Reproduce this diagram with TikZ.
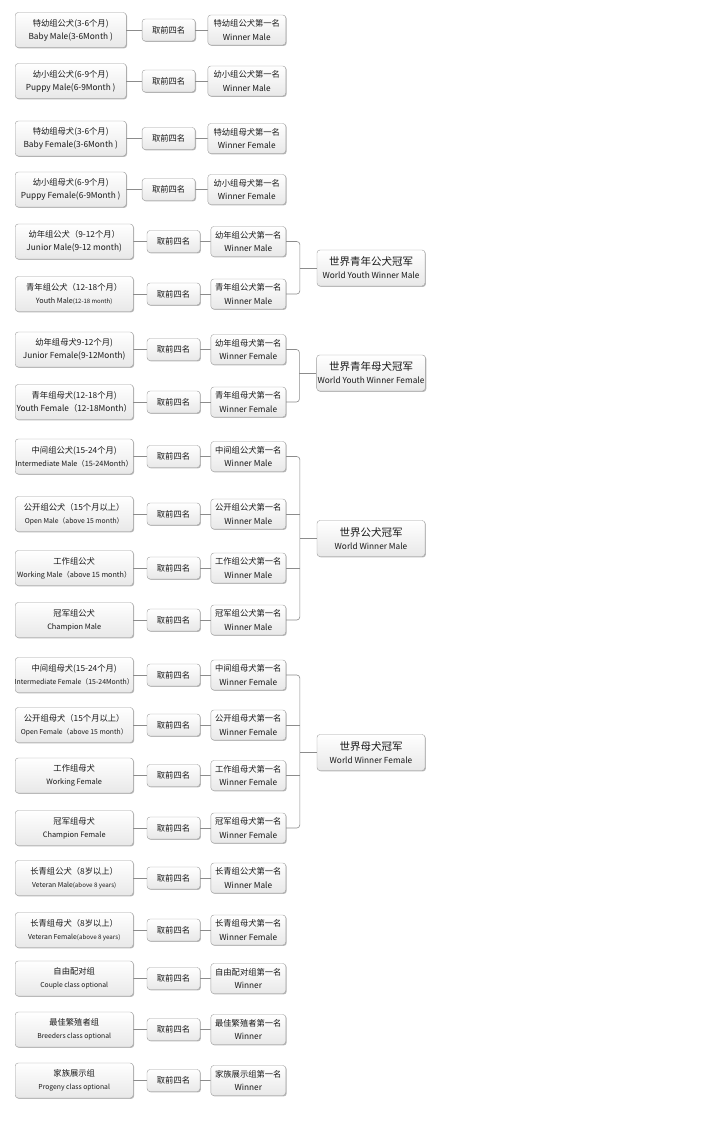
\documentclass[tikz,border=0pt]{standalone}
\usepackage{fontspec}
\setmainfont{Noto Sans CJK SC}
\usepackage{tikz}
\usetikzlibrary{shadows,calc}
\tikzset{
  box/.style={draw=black!38, rounded corners=3pt, top color=white, bottom color=black!9,
    drop shadow={shadow xshift=0.9pt, shadow yshift=-0.9pt, fill=black!40, opacity=.7},
    align=center, inner sep=1pt, text=black!90},
  cls/.style={box, anchor=west, minimum width=118pt, minimum height=35pt, font=\fontsize{8.3}{13}\selectfont},
  pick/.style={box, minimum width=53pt, minimum height=22pt, font=\fontsize{8.3}{10}\selectfont},
  win/.style={box, anchor=east, minimum width=75pt, minimum height=30pt, font=\fontsize{8.3}{13.5}\selectfont},
  champ/.style={box, minimum width=108pt, minimum height=36pt, font=\fontsize{8.3}{13}\selectfont},
  link/.style={draw=black!45, line width=.6pt, rounded corners=3pt}
}
\newcommand{\sz}[2]{{\fontsize{#1}{9}\selectfont #2}}
\newcommand{\fitw}[1]{\makebox[112pt]{#1}}
\newcommand{\grp}[4]{%
  \node[cls] (c#1) at (15,#2) {#3};
  \node[win] (w#1) at (286,#2) {#4};
  \node[pick] (p#1) at ($(c#1.east)!.52!(w#1.west)$) {取前四名};
  \draw[link] (c#1) -- (p#1) -- (w#1);
}
\newcommand{\bigt}[1]{{\fontsize{10.5}{13}\selectfont #1}}

\begin{document}
\begin{tikzpicture}[x=1pt,y=-1pt]
  \useasboundingbox (0,0) rectangle (716,1126);

  \begin{scope}[cls/.append style={minimum width=111pt}, win/.append style={minimum width=78pt}]
    \grp{1}{30}{特幼组公犬(3-6个月)\\Baby Male(3-6Month )}{特幼组公犬第一名\\Winner Male}
    \grp{2}{81}{幼小组公犬(6-9个月)\\Puppy Male(6-9Month )}{幼小组公犬第一名\\Winner Male}
    \grp{3}{138.5}{特幼组母犬(3-6个月)\\Baby Female(3-6Month )}{特幼组母犬第一名\\Winner Female}
    \grp{4}{189.5}{幼小组母犬(6-9个月)\\Puppy Female(6-9Month )}{幼小组母犬第一名\\Winner Female}
  \end{scope}

  \grp{5}{241.5}{幼年组公犬（9-12个月）\\Junior Male(9-12 month)}{幼年组公犬第一名\\Winner Male}
  \grp{6}{294}{青年组公犬（12-18个月）\\\sz{7.2}{Youth Male}\sz{6}{(12-18 month)}}{青年组公犬第一名\\Winner Male}
  \grp{7}{349.5}{幼年组母犬9-12个月)\\Junior Female(9-12Month)}{幼年组母犬第一名\\Winner Female}
  \grp{8}{402}{青年组母犬(12-18个月)\\Youth Female（12-18Month）}{青年组母犬第一名\\Winner Female}

  \grp{9}{456.5}{中间组公犬(15-24个月)\\\fitw{\sz{7.3}{Intermediate Male（15-24Month）}}}{中间组公犬第一名\\Winner Male}
  \grp{10}{514}{公开组公犬（15个月以上）\\\sz{6.8}{Open Male（above 15 month）}}{公开组公犬第一名\\Winner Male}
  \grp{11}{568}{工作组公犬\\\sz{7.2}{Working Male（above 15 month）}}{工作组公犬第一名\\Winner Male}
  \grp{12}{620}{冠军组公犬\\\sz{7.4}{Champion Male}}{冠军组公犬第一名\\Winner Male}

  \grp{13}{675}{中间组母犬(15-24个月)\\\fitw{\sz{6.9}{Intermediate Female（15-24Month）}}}{中间组母犬第一名\\Winner Female}
  \grp{14}{725}{公开组母犬（15个月以上）\\\sz{6.8}{Open Female（above 15 month）}}{公开组母犬第一名\\Winner Female}
  \grp{15}{775.5}{工作组母犬\\\sz{7.4}{Working Female}}{工作组母犬第一名\\Winner Female}
  \grp{16}{828}{冠军组母犬\\\sz{7.4}{Champion Female}}{冠军组母犬第一名\\Winner Female}

  \grp{17}{878}{长青组公犬（8岁以上）\\\sz{6.8}{Veteran Male}\sz{6.2}{(above 8 years)}}{长青组公犬第一名\\Winner Male}
  \grp{18}{930}{长青组母犬（8岁以上）\\\sz{6.8}{Veteran Female}\sz{6.2}{(above 8 years)}}{长青组母犬第一名\\Winner Female}
  \grp{19}{978.5}{自由配对组\\\sz{6.8}{Couple class optional}}{自由配对组第一名\\Winner}
  \grp{20}{1029.5}{最佳繁殖者组\\\sz{6.8}{Breeders class optional}}{最佳繁殖者第一名\\Winner}
  \grp{21}{1080.5}{家族展示组\\\sz{6.8}{Progeny class optional}}{家族展示组第一名\\Winner}

  \node[champ] (youthm) at (371,268) {\bigt{世界青年公犬冠军}\\World Youth Winner Male};
  \node[champ] (youthf) at (371,373) {\bigt{世界青年母犬冠军}\\World Youth Winner Female};
  \node[champ] (worldm) at (371,538.5) {\bigt{世界公犬冠军}\\World Winner Male};
  \node[champ] (worldf) at (371,752.5) {\bigt{世界母犬冠军}\\World Winner Female};

  \draw[link] (w5.east) -| ([xshift=-17pt]youthm.west);
  \draw[link] (w6.east) -| ([xshift=-17pt]youthm.west);
  \draw[link] ([xshift=-17pt]youthm.west) -- (youthm.west);
  \draw[link] (w7.east) -| ([xshift=-17pt]youthf.west);
  \draw[link] (w8.east) -| ([xshift=-17pt]youthf.west);
  \draw[link] ([xshift=-17pt]youthf.west) -- (youthf.west);
  \draw[link] (w9.east) -| ([xshift=-17pt]worldm.west);
  \draw[link] (w12.east) -| ([xshift=-17pt]worldm.west);
  \draw[link] (w10.east) -- ([xshift=-17pt]worldm.west |- w10.east);
  \draw[link] (w11.east) -- ([xshift=-17pt]worldm.west |- w11.east);
  \draw[link] ([xshift=-17pt]worldm.west) -- (worldm.west);
  \draw[link] (w13.east) -| ([xshift=-17pt]worldf.west);
  \draw[link] (w16.east) -| ([xshift=-17pt]worldf.west);
  \draw[link] (w14.east) -- ([xshift=-17pt]worldf.west |- w14.east);
  \draw[link] (w15.east) -- ([xshift=-17pt]worldf.west |- w15.east);
  \draw[link] ([xshift=-17pt]worldf.west) -- (worldf.west);
\end{tikzpicture}
\end{document}
